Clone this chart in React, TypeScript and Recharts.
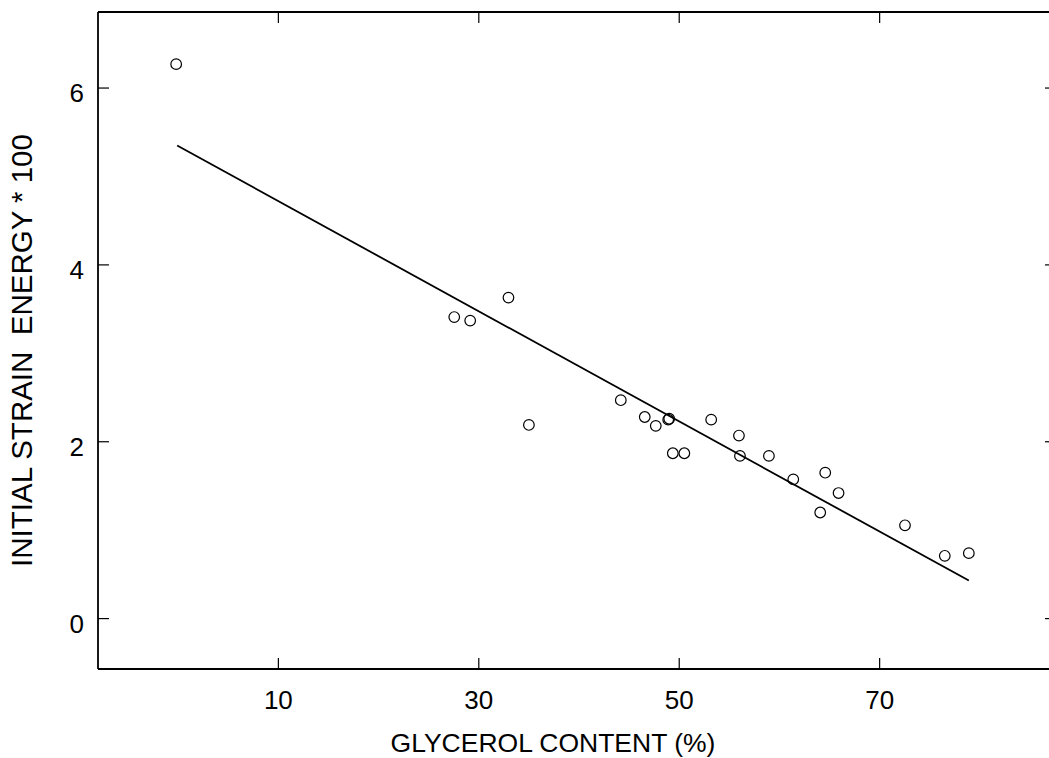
import React from 'react';
import { ComposedChart, Scatter, XAxis, YAxis, ReferenceLine, Label } from 'recharts';

const glycerol = [-0.2, 27.55, 29.14, 32.96, 35.0, 44.17, 46.56, 47.66, 48.9, 49.0, 49.36, 50.51, 53.19, 55.96, 56.06, 58.95, 61.38, 64.57, 65.9, 64.07, 72.53, 76.5, 78.9];
const strainEnergy = [6.27, 3.41, 3.37, 3.63, 2.19, 2.47, 2.28, 2.18, 2.25, 2.26, 1.87, 1.87, 2.25, 2.07, 1.84, 1.84, 1.575, 1.65, 1.42, 1.2, 1.055, 0.71, 0.74];
const fitX = [-0.1, 78.9];
const fitY = [5.35, 0.43];
const xTicks = [10, 30, 50, 70];
const yTicks = [0, 2, 4, 6];
const xLabel = 'GLYCEROL CONTENT (%)';
const yLabel = 'INITIAL STRAIN  ENERGY * 100';

const points = glycerol.map((x, i) => ({ x, y: strainEnergy[i] }));

const FONT = '"Liberation Sans", Arial, Helvetica, sans-serif';
const X_DOMAIN: [number, number] = [-8, 87];
const Y_DOMAIN: [number, number] = [-0.57, 6.86];

const Circle = (props: any) => (
  <circle cx={props.cx} cy={props.cy} r={5.3} fill="none" stroke="#000" strokeWidth={1.2} />
);
const Empty = () => <g />;

export default function App() {
  const tickLine = { stroke: '#000', strokeWidth: 1.2 };
  return (
    <div style={{ position: 'absolute', left: 0, top: 0, width: 1049, height: 758, overflow: 'hidden', background: '#fff' }}>
      <ComposedChart width={1060} height={758} margin={{ top: 11, right: 9, bottom: 9, left: 8 }}>
        <XAxis
          xAxisId="b"
          type="number"
          dataKey="x"
          domain={X_DOMAIN}
          allowDataOverflow
          ticks={xTicks}
          tickSize={-11}
          tickMargin={33}
          height={80}
          axisLine={{ stroke: '#000', strokeWidth: 1.8 }}
          tickLine={tickLine}
          tick={{ fill: '#000', fontSize: 26, fontFamily: FONT }}
        >
          <Label
            content={({ viewBox }: any) => (
              <text
                x={viewBox.x + viewBox.width / 2 - 21}
                y={viewBox.y + 83}
                textAnchor="middle"
                fontSize={26.5}
                fontFamily={FONT}
                fill="#000"
              >
                {xLabel}
              </text>
            )}
          />
        </XAxis>
        <XAxis
          xAxisId="t"
          orientation="top"
          type="number"
          dataKey="x"
          domain={X_DOMAIN}
          allowDataOverflow
          ticks={xTicks}
          tickSize={-11}
          height={1}
          tick={Empty}
          axisLine={{ stroke: '#000', strokeWidth: 1.8 }}
          tickLine={tickLine}
        />
        <YAxis
          yAxisId="l"
          type="number"
          dataKey="y"
          domain={Y_DOMAIN}
          allowDataOverflow
          ticks={yTicks}
          tickSize={-11}
          tickMargin={25}
          width={90}
          axisLine={{ stroke: '#000', strokeWidth: 1.8 }}
          tickLine={tickLine}
          tick={{ fill: '#000', fontSize: 26, fontFamily: FONT, dy: 5 }}
        >
          <Label
            content={({ viewBox }: any) => {
              const cx = viewBox.x + 24;
              const cy = viewBox.y + viewBox.height / 2 + 10;
              return (
                <text
                  x={cx}
                  y={cy}
                  transform={`rotate(-90 ${cx} ${cy})`}
                  textAnchor="middle"
                  fontSize={29.5}
                  fontFamily={FONT}
                  fill="#000"
                  style={{ whiteSpace: 'pre' }}
                >
                  {yLabel}
                </text>
              );
            }}
          />
        </YAxis>
        <YAxis
          yAxisId="r"
          orientation="right"
          type="number"
          dataKey="y"
          domain={Y_DOMAIN}
          allowDataOverflow
          ticks={yTicks}
          tickSize={-5}
          width={1}
          tick={Empty}
          axisLine={{ stroke: '#000', strokeWidth: 1.8 }}
          tickLine={tickLine}
        />
        <ReferenceLine
          xAxisId="b"
          yAxisId="l"
          y={Y_DOMAIN[1]}
          stroke="#000"
          strokeWidth={1.8}
        />
        <ReferenceLine
          xAxisId="b"
          yAxisId="l"
          segment={[{ x: fitX[0], y: fitY[0] }, { x: fitX[1], y: fitY[1] }]}
          stroke="#000"
          strokeWidth={1.8}
        />
        <Scatter
          xAxisId="t"
          yAxisId="r"
          data={points}
          dataKey="y"
          shape={Empty}
          isAnimationActive={false}
        />
        <Scatter
          xAxisId="b"
          yAxisId="l"
          data={points}
          dataKey="y"
          shape={Circle}
          isAnimationActive={false}
        />
      </ComposedChart>
    </div>
  );
}
